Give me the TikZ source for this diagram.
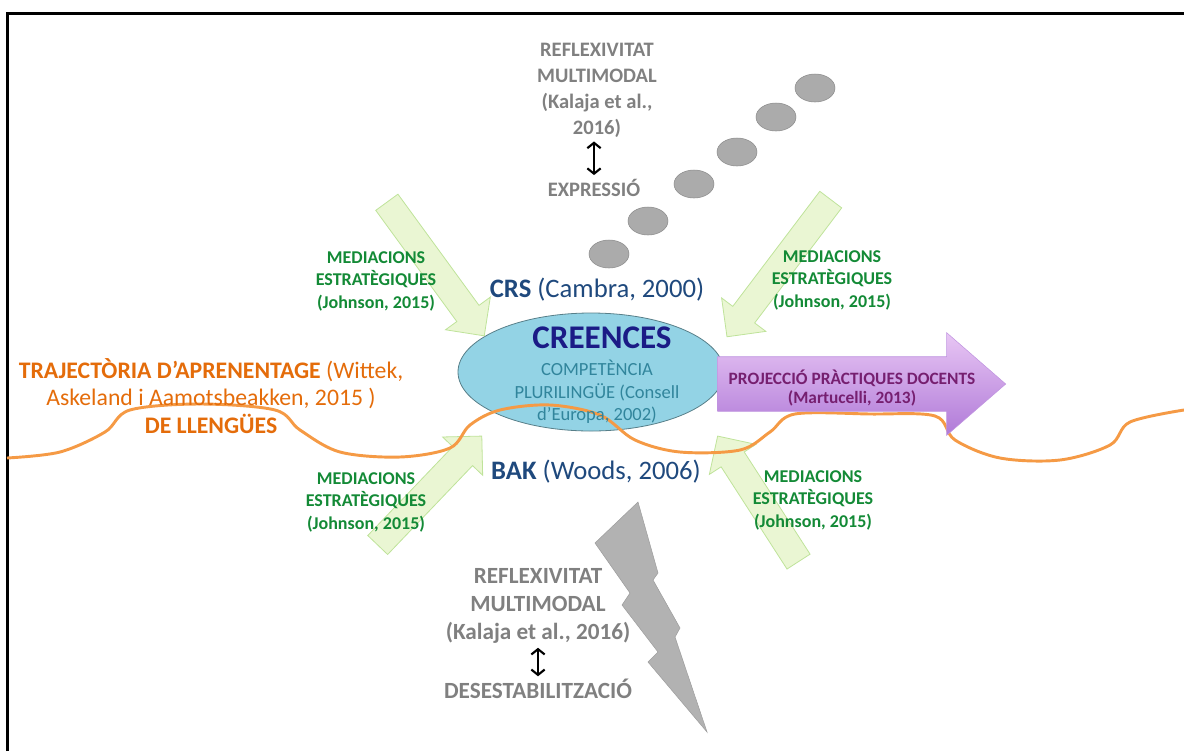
\documentclass[tikz,border=0pt]{standalone}
\usepackage{fontspec}
\setmainfont{Carlito}
\usetikzlibrary{arrows.meta,positioning,shapes.geometric,shapes.arrows}
\definecolor{crgreen}{HTML}{138A36}
\definecolor{crgrey}{HTML}{808080}
\definecolor{crnavy}{HTML}{1F497D}
\definecolor{crdeep}{HTML}{1B1B86}
\definecolor{crteal}{HTML}{31859C}
\definecolor{crorange}{HTML}{E46C0A}
\definecolor{crwave}{HTML}{F59A45}
\definecolor{crplum}{HTML}{761F70}
\definecolor{crsky}{HTML}{93D3E5}
\definecolor{crlime}{HTML}{EAF6D3}
\definecolor{crlimeedge}{HTML}{BFE39A}
\definecolor{crlav}{HTML}{E8C6F4}
\definecolor{crviolet}{HTML}{B07AD8}

\begin{document}
\begin{tikzpicture}[x=0.75pt,y=-0.75pt,
  med/.style={font=\fontsize{13.5}{16.9}\selectfont\bfseries,text=crgreen,align=center,inner sep=0pt},
  refl/.style={font=\fontsize{15.4}{19.5}\selectfont\bfseries,text=crgrey,align=center,inner sep=0pt},
  reflb/.style={font=\fontsize{17.4}{21}\selectfont\bfseries,text=crgrey,align=center,inner sep=0pt},
  cite/.style={font=\fontsize{20}{24}\selectfont,text=crnavy,inner sep=0pt},
  garrow/.style={single arrow,draw=crlimeedge,fill=crlime,inner xsep=0pt,inner ysep=10pt,single arrow head extend=10.5pt,line width=0.6pt},
  pebble/.style={ellipse,draw=black!45,fill=black!33,minimum width=30pt,minimum height=21pt,inner sep=0pt},
  dbl/.style={{Straight Barb[length=4pt,width=10pt]}-{Straight Barb[length=4pt,width=10pt]},line width=1.6pt},
  trail/.style={draw=crwave,line width=2.2pt}]
\useasboundingbox (0,0) rectangle (1184,751);
\draw[line width=2.25pt] (7,751) -- (7,13) -- (1184,13);

% central belief
\node[ellipse,draw=crsky!60!black,fill=crsky,line width=0.6pt,minimum width=199.5pt,minimum height=88.5pt] (creences) at (591,372) {};

% mediations
\node[garrow,minimum height=124pt,rotate=-53.9] (g1) at (431.5,263.5) {};
\node[garrow,minimum height=129pt,rotate=-127.1] (g2) at (783,262.7) {};
\node[garrow,minimum height=113pt,rotate=46.3] (g3) at (425,495.5) {};
\node[garrow,minimum height=112pt,rotate=122.8] (g4) at (761.8,504.6) {};

% learning trajectory
\draw[trail] plot[smooth,tension=0.55] coordinates {(7,458) (60,452) (105,432) (130,410) (200,404) (275,410) (300,430) (340,452) (400,457) (450,448) (470,425) (500,410) (550,405) (600,415) (635,440) (680,452) (740,450) (770,432) (795,414) (870,414) (935,416) (955,440) (1000,458) (1060,460) (1110,445) (1130,422) (1184,410)};

\node[single arrow,top color=crlav,bottom color=crviolet,draw=crviolet!80,minimum height=216pt,inner xsep=0pt,inner ysep=20.25pt,single arrow head extend=18pt,single arrow tip angle=82] (proj) at (846,384) {};
\node[font=\fontsize{13}{14.6}\selectfont\bfseries,text=crplum,align=center,inner sep=0pt] (projtxt) at (852,388) {PROJECCIÓ PRÀCTIQUES DOCENTS\\(Martucelli, 2013)};

% expression
\foreach \px/\py [count=\i] in {609/254,648/221,694/184,737/152,776/117,815/88}
  \node[pebble] (p\i) at (\px,\py) {};
\node[refl] (reflT) at (597,90) {REFLEXIVITAT\\MULTIMODAL\\(Kalaja et al.,\\2016)};
\node[refl] (expr) at (594,188) {EXPRESSIÓ};
\draw[dbl,shorten <=3pt,shorten >=3pt] (expr.north |- reflT.south) -- (expr.north);

% destabilisation
\fill[black!30,draw=black!38] (638,502) -- (658,573) -- (653,580) -- (680,628) -- (675,637) -- (707,732) -- (648,662) -- (658,652) -- (622,605) -- (630,593) -- (595,543) -- cycle;
\node[reflb] (reflB) at (538,606) {REFLEXIVITAT\\MULTIMODAL\\(Kalaja et al., 2016)};
\node[reflb] (desest) at (538,689) {DESESTABILITZACIÓ};
\draw[dbl,shorten <=3pt,shorten >=2pt] (desest.north |- reflB.south) -- (desest.north);

% labels
\node[med] (m1) at (376,281) {MEDIACIONS\\ESTRATÈGIQUES\\(Johnson, 2015)};
\node[med] (m2) at (832,280) {MEDIACIONS\\ESTRATÈGIQUES\\(Johnson, 2015)};
\node[med] (m3) at (366,502) {MEDIACIONS\\ESTRATÈGIQUES\\(Johnson, 2015)};
\node[med] (m4) at (813,500) {MEDIACIONS\\ESTRATÈGIQUES\\(Johnson, 2015)};
\node[cite] (crs) at (597,290) {\textbf{CRS} (Cambra, 2000)};
\node[cite] (bak) at (596,472) {\textbf{BAK} (Woods, 2006)};
\node[font=\fontsize{24.8}{30}\selectfont\bfseries,text=crdeep,inner sep=0pt] (ctitle) at (602,338) {CREENCES};
\node[font=\fontsize{13.9}{16.9}\selectfont,text=crteal,align=center,inner sep=0pt] (compet) at (597,392) {COMPETÈNCIA\\PLURILINGÜE (Consell\\d’Europa, 2002)};
\node[font=\fontsize{17.8}{20.4}\selectfont,text=crorange,align=center,inner sep=0pt] (traj) at (211,396) {\textbf{TRAJECTÒRIA D’APRENENTAGE} (Wittek,\\Askeland i Aamotsbeakken, 2015 )\\\textbf{DE LLENGÜES}};
\end{tikzpicture}
\end{document}
